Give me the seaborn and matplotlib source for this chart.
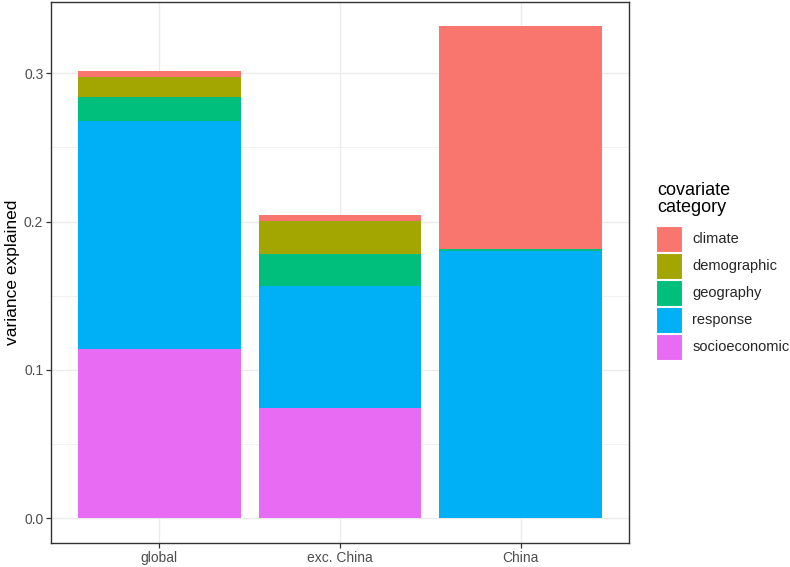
import numpy as np
import matplotlib
matplotlib.use("Agg")
import matplotlib.pyplot as plt
import matplotlib.patches as mpatches
import seaborn as sns

# data
groups = ["global", "exc. China", "China"]
categories = ["climate", "demographic", "geography", "response", "socioeconomic"]
socioeconomic = [0.114, 0.0744, 0.0]
response = [0.154, 0.0824, 0.1802]
geography = [0.0162, 0.0216, 0.0012]
demographic = [0.0131, 0.0219, 0.0002]
climate = [0.0040, 0.0042, 0.1499]

colors = {"climate": "#F8766D", "demographic": "#A3A500", "geography": "#00BF7D",
          "response": "#00B0F6", "socioeconomic": "#E76BF3"}

sns.set_style("white")
plt.rcParams['font.family'] = ['Liberation Sans', 'DejaVu Sans']

fig = plt.figure(figsize=(7.9, 5.67), dpi=100, facecolor='white')
ax = fig.add_axes([51/790, 1 - 543/567, (629 - 51)/790, (543 - 2)/567])

# stack from the bottom up (ggplot puts the first level on top)
stack = [("socioeconomic", socioeconomic), ("response", response),
         ("geography", geography), ("demographic", demographic), ("climate", climate)]
bottom = np.zeros(len(groups))
for name, vals in stack:
    sns.barplot(x=groups, y=vals, bottom=bottom, color=colors[name], width=0.9,
                saturation=1, errorbar=None, linewidth=0, ax=ax, zorder=2)
    bottom = bottom + np.array(vals)

ax.set_xlim(-0.6, 2.6)
ax.set_ylim(-0.0166, 0.348)
ax.set_yticks([0.0, 0.1, 0.2, 0.3])
ax.set_yticklabels(["0.0", "0.1", "0.2", "0.3"])
ax.set_yticks([0.05, 0.15, 0.25], minor=True)
ax.grid(True, which='major', color='#EBEBEB', linewidth=1.0, zorder=0)
ax.grid(True, which='minor', axis='y', color='#EBEBEB', linewidth=0.5, zorder=0)
ax.set_axisbelow(True)
for s in ax.spines.values():
    s.set_visible(True)
    s.set_color('#333333')
    s.set_linewidth(1.0)
ax.tick_params(axis='both', which='major', length=3.5, width=0.9, color='#333333',
               labelcolor='#4D4D4D', labelsize=10, pad=2, bottom=True, left=True)
ax.tick_params(axis='both', which='minor', length=0)
ax.set_xlabel("")
ax.set_ylabel("variance explained", fontsize=12.5, color='black', labelpad=3)

# legend title drawn separately so the gap to the keys matches
fig.text(657/790, 1 - 182/567, "covariate\ncategory", ha='left', va='top',
         fontsize=13, linespacing=1.0, color='black')
handles = [mpatches.Patch(facecolor=colors[c], edgecolor='white', linewidth=0.8, label=c)
           for c in categories]
leg = fig.legend(handles=handles, loc='upper left', bbox_to_anchor=(656/790, 1 - 226/567),
                 frameon=False, fontsize=10.5, handlelength=1.8, handleheight=2.33,
                 labelspacing=0.09, handletextpad=0.7, borderpad=0, borderaxespad=0)

fig.savefig("out.png", dpi=100, facecolor='white')
